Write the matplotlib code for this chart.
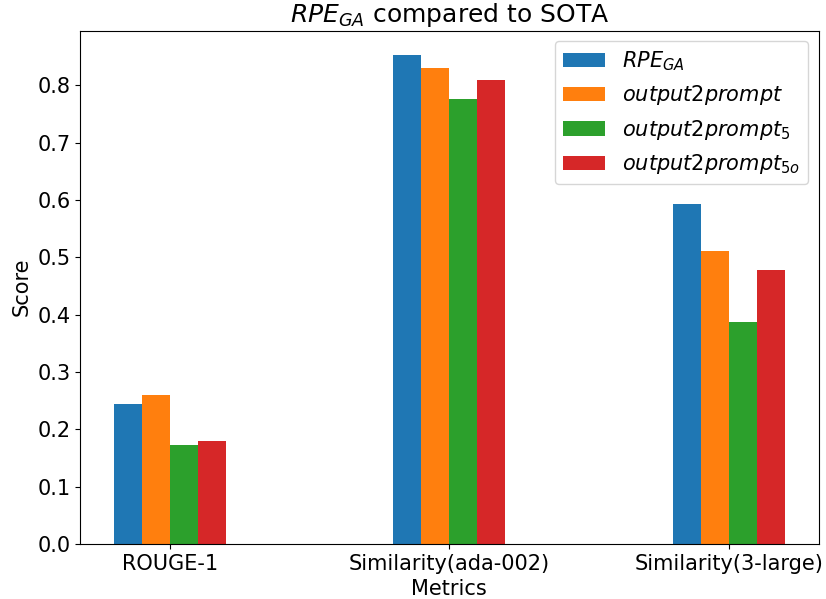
import numpy as np
import matplotlib.pyplot as plt

metrics = ['ROUGE-1', 'Similarity(ada-002)', 'Similarity(3-large)']
rpe_ga = [0.244, 0.853, 0.593]
o2p = [0.259, 0.830, 0.511]
o2p_5 = [0.172, 0.777, 0.388]
o2p_5o = [0.179, 0.809, 0.477]

labels = [r'$RPE_{GA}$', r'$output2prompt$', r'$output2prompt_5$', r'$output2prompt_{5o}$']
series = [rpe_ga, o2p, o2p_5, o2p_5o]

plt.rcParams['font.size'] = 15

fig, ax = plt.subplots(figsize=(8.26, 5.99), dpi=100)

x = np.arange(len(metrics))
width = 0.1
for i, (vals, lab) in enumerate(zip(series, labels)):
    ax.bar(x + (i - 1.5) * width, vals, width, label=lab)

ax.set_xticks(x)
ax.set_xticklabels(metrics)
ax.set_xlabel('Metrics')
ax.set_ylabel('Score')
ax.set_title(r'$RPE_{GA}$ compared to SOTA', fontsize=18)
ax.legend(loc='upper right')

fig.subplots_adjust(left=0.097, right=0.991, top=0.949, bottom=0.092)
fig.savefig('out.png')
